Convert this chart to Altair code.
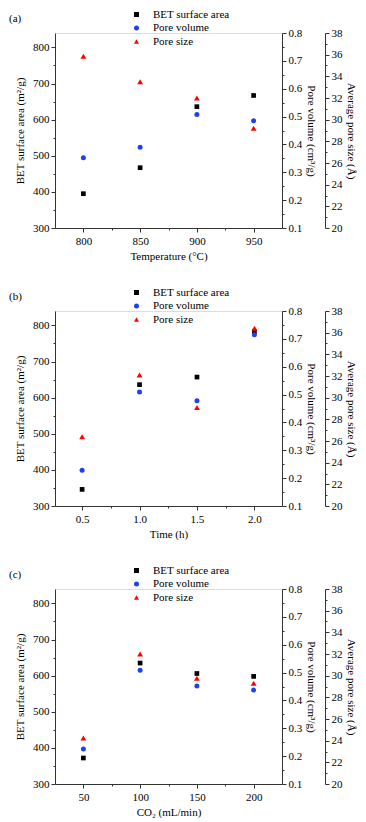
import altair as alt
import pandas as pd

SERIES = ["BET surface area", "Pore volume", "Pore size"]
COLORS = ["#000000", "#1f40f0", "#ff0000"]
SHAPES = ["square", "circle", "triangle-up"]

# Panel (a): activation temperature
temp = [800, 850, 900, 950]
bet_a = [395, 467, 636, 667]
pv_a = [0.352, 0.390, 0.507, 0.485]
ps_a = [35.85, 33.5, 32.0, 29.2]

# Panel (b): activation time
time_h = [0.5, 1.0, 1.5, 2.0]
bet_b = [346, 636, 657, 783]
pv_b = [0.228, 0.509, 0.478, 0.715]
ps_b = [26.4, 32.1, 29.1, 36.4]

# Panel (c): CO2 flow
co2 = [50, 100, 150, 200]
bet_c = [372, 635, 606, 598]
pv_c = [0.226, 0.508, 0.452, 0.437]
ps_c = [24.25, 32.0, 29.76, 29.3]

bet_major = [300, 400, 500, 600, 700, 800]
bet_minor = [350, 450, 550, 650, 750]
pv_major = [0.1, 0.2, 0.3, 0.4, 0.5, 0.6, 0.7, 0.8]
pv_minor = [0.15, 0.25, 0.35, 0.45, 0.55, 0.65, 0.75]
ps_major = [20, 22, 24, 26, 28, 30, 32, 34, 36, 38]
ps_minor = [21, 23, 25, 27, 29, 31, 33, 35, 37]

FONT = "Liberation Serif"
W, H = 227, 195
AX = "#333333"


def yaxis(values, orient, title=None, minor=False, offset=0, fmt=None, tpad=4):
    kw = dict(values=values, orient=orient, grid=False, offset=offset,
              domainColor=AX, tickColor=AX, labelColor="#000",
              labelFont=FONT, labelFontSize=11, titleFont=FONT,
              titleFontSize=11, titleFontWeight="normal", titleColor="#000")
    if minor:
        kw.update(labels=False, domain=False, tickSize=2, title=None)
    else:
        kw.update(tickSize=4, labelPadding=2, title=title, titlePadding=tpad)
        if fmt:
            kw["format"] = fmt
    return alt.Axis(**kw)


def panel(xs, bet, pv, ps, label, xtitle, xdomain, xmajor, xminor, xfmt):
    n = len(xs)
    df = pd.DataFrame({
        "x": list(xs) * 3,
        "value": list(bet) + list(pv) + list(ps),
        "series": [s for s in SERIES for _ in range(n)],
    })
    base = alt.Chart(df)
    leg = alt.Legend(orient="none", legendX=76, legendY=-24, title=None,
                     labelFont=FONT, labelFontSize=11, labelColor="#000",
                     symbolSize=25, symbolStrokeWidth=0, labelOffset=11,
                     rowPadding=1.5, padding=0)
    color = alt.Color("series:N", title=None,
                      scale=alt.Scale(domain=SERIES, range=COLORS), legend=leg)
    shape = alt.Shape("series:N", title=None,
                      scale=alt.Scale(domain=SERIES, range=SHAPES), legend=leg)
    xsc = alt.Scale(domain=xdomain, nice=False, zero=False)
    x_major = alt.X("x:Q", scale=xsc, axis=alt.Axis(
        values=xmajor, format=xfmt, orient="bottom", grid=False, title=xtitle,
        tickSize=4, labelPadding=3, domainColor=AX, tickColor=AX, labelColor="#000",
        labelFont=FONT, labelFontSize=11, titleFont=FONT, titleFontSize=11,
        titleFontWeight="normal", titleColor="#000", titlePadding=4))
    x_minor = alt.X("x:Q", scale=xsc, axis=alt.Axis(
        values=xminor, orient="bottom", grid=False, labels=False, domain=False,
        tickSize=2, tickColor=AX, title=None))
    x_none = alt.X("x:Q", scale=xsc, axis=None)

    def ysc(d):
        return alt.Scale(domain=d, nice=False, zero=False)

    def sub(name):
        return base.transform_filter(alt.datum.series == name)

    l1 = sub(SERIES[0]).mark_point(filled=True, size=22, opacity=1).encode(
        x=x_major,
        y=alt.Y("value:Q", scale=ysc([300, 840]),
                axis=yaxis(bet_major, "left", "BET surface area (m²/g)", tpad=7)),
        color=color, shape=shape)
    l2 = sub(SERIES[0]).mark_point(opacity=0).encode(
        x=x_minor,
        y=alt.Y("value:Q", scale=ysc([300, 840]), axis=yaxis(bet_minor, "left", minor=True)))
    l3 = sub(SERIES[1]).mark_point(filled=True, size=25, opacity=1).encode(
        x=x_none,
        y=alt.Y("value:Q", scale=ysc([0.1, 0.8]),
                axis=yaxis(pv_major, "right", "Pore volume (cm³/g)", fmt=".1f", tpad=4)),
        color=color, shape=shape)
    l4 = sub(SERIES[1]).mark_point(opacity=0).encode(
        x=x_none,
        y=alt.Y("value:Q", scale=ysc([0.1, 0.8]), axis=yaxis(pv_minor, "right", minor=True)))
    l5 = sub(SERIES[2]).mark_point(filled=True, size=34, opacity=1).encode(
        x=x_none,
        y=alt.Y("value:Q", scale=ysc([20, 38]),
                axis=yaxis(ps_major, "right", "Average pore size (Å)", offset=43, tpad=3)),
        color=color, shape=shape)
    l6 = sub(SERIES[2]).mark_point(opacity=0).encode(
        x=x_none,
        y=alt.Y("value:Q", scale=ysc([20, 38]), axis=yaxis(ps_minor, "right", minor=True, offset=43)))
    lab = alt.Chart(pd.DataFrame({"label": [label]})).mark_text(
        align="left", baseline="middle", font=FONT, fontSize=11, color="#000"
    ).encode(x=alt.value(-46), y=alt.value(-14), text="label:N")
    return alt.layer(l1, l2, l3, l4, l5, l6, lab).resolve_scale(
        x="independent", y="independent"
    ).properties(width=W, height=H)


pa = panel(temp, bet_a, pv_a, ps_a, "(a)", "Temperature (°C)", [775, 975],
           [800, 850, 900, 950], [825, 875, 925], "d")
pb = panel(time_h, bet_b, pv_b, ps_b, "(b)", "Time (h)", [0.264, 2.24],
           [0.5, 1.0, 1.5, 2.0], [0.75, 1.25, 1.75], ".1f")
pc = panel(co2, bet_c, pv_c, ps_c, "(c)", "CO₂ (mL/min)", [25, 225],
           [50, 100, 150, 200], [75, 125, 175], "d")

chart = alt.vconcat(pa, pb, pc, spacing=83, bounds="flush").resolve_scale(
    color="independent", shape="independent"
).properties(padding=0).configure_view(stroke=None).configure(background="white")

chart.save("out.html", embed_options={"renderer": "svg", "actions": False})
